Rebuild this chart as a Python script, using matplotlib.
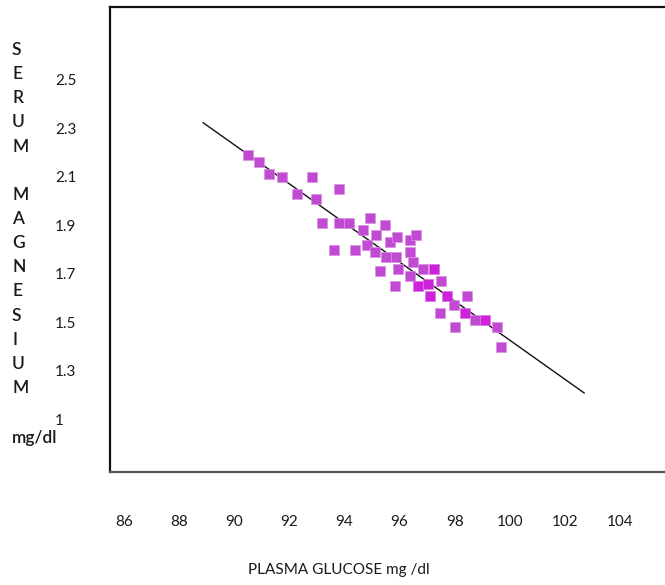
import numpy as np
import matplotlib
matplotlib.use("Agg")
import matplotlib.pyplot as plt

plt.rcParams['font.family'] = ['Lato', 'DejaVu Sans']

# glucose (mg/dl) vs magnesium (mg/dl), purple points
glucose_a = [90.50, 90.90, 91.26, 91.73, 92.82, 92.28, 92.97, 93.80, 93.19,
             93.80, 94.17, 94.93, 94.68, 95.47, 95.15, 93.62, 94.38, 94.82,
             95.66, 95.91, 96.38, 96.60, 95.11, 95.51, 95.87, 96.38, 96.49,
             96.85, 95.29, 95.95, 96.38, 95.84, 97.47, 98.01, 98.74, 99.54,
             99.68, 97.51, 97.98, 98.45]
magnesium_a = [2.19, 2.16, 2.11, 2.10, 2.10, 2.03, 2.01, 2.05, 1.91,
               1.91, 1.91, 1.93, 1.88, 1.90, 1.86, 1.80, 1.80, 1.82,
               1.83, 1.85, 1.84, 1.86, 1.79, 1.77, 1.77, 1.79, 1.75,
               1.72, 1.71, 1.72, 1.69, 1.65, 1.54, 1.48, 1.51, 1.48,
               1.40, 1.67, 1.57, 1.61]

# brighter magenta points
glucose_b = [97.25, 97.03, 96.67, 97.11, 97.72, 98.38, 99.10]
magnesium_b = [1.72, 1.66, 1.65, 1.61, 1.61, 1.54, 1.51]

# regression line end points
fit_x = [88.87, 102.70]
fit_y = [2.323, 1.209]

x_ticks = [86, 88, 90, 92, 94, 96, 98, 100, 102, 104]
y_ticks = [2.5, 2.3, 2.1, 1.9, 1.7, 1.5, 1.3, 1.1]
y_tick_labels = ['2.5', '2.3', '2.1', '1.9', '1.7', '1.5', '1.3', '1']

y_title = "SERUM MAGNESIUM"

fig = plt.figure(figsize=(6.65, 5.85), dpi=100)
ax = fig.add_axes([110 / 665, 1 - 472 / 585, 570 / 665, 465 / 585])

ax.plot(fit_x, fit_y, color='#111111', lw=1.0, zorder=2)
ax.scatter(glucose_a, magnesium_a, marker='s', s=60, color='#C04AD2',
           edgecolors='#D890E0', linewidths=0.5, zorder=3)
ax.scatter(glucose_b, magnesium_b, marker='s', s=60, color='#CC22DA',
           edgecolors='#E070E8', linewidths=0.5, zorder=3)

ax.set_xlim(85.49, 106.18)
ax.set_ylim(0.883, 2.80)

ax.set_xticks(x_ticks)
ax.set_xticklabels([str(v) for v in x_ticks])
ax.set_yticks(y_ticks)
ax.set_yticklabels(y_tick_labels)
ax.tick_params(axis='x', length=0, pad=31, labelsize=11, labelcolor='#1a1a1a')
ax.tick_params(axis='y', length=0, pad=39.6, labelsize=11, labelcolor='#1a1a1a')
for lab in ax.get_yticklabels():
    lab.set_horizontalalignment('left')

for side in ['top', 'left']:
    ax.spines[side].set_linewidth(1.6)
    ax.spines[side].set_color('#111111')
ax.spines['bottom'].set_linewidth(1.6)
ax.spines['bottom'].set_color('#555555')
ax.spines['right'].set_visible(False)

# stacked letters of the y title
for i, ch in enumerate(y_title):
    fig.text(12 / 665, 1 - (50 + i * 24.14) / 585, ch, ha='left', va='center',
             fontsize=12.5, fontweight='semibold', color='#1a1a1a')
fig.text(12 / 665, 1 - 438 / 585, "mg/dl", ha='left', va='center',
         fontsize=12.5, fontweight='semibold', color='#1a1a1a')
fig.text(339 / 665, 1 - 570 / 585, "PLASMA GLUCOSE mg /dl", ha='center',
         va='center', fontsize=11, color='#1a1a1a')

fig.savefig("out.png", dpi=100)
